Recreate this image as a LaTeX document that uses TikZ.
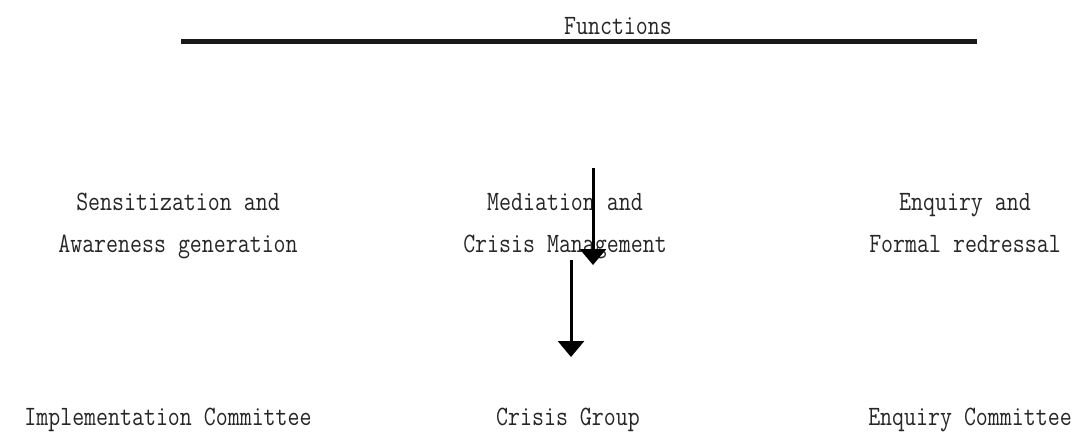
\documentclass[tikz,border=0pt]{standalone}
\usepackage{fontspec}
\usetikzlibrary{arrows.meta}
\newcommand{\narrowtext}[1]{\scalebox{0.83}[1]{#1}}
\begin{document}
\begin{tikzpicture}[x=1pt,y=-1pt,
  lbl/.style={font=\fontsize{28}{32}\selectfont\ttfamily, inner sep=0pt, anchor=base, text=black!85},
  arr/.style={line width=3pt, -{Triangle[width=26pt,length=16pt]}}]
\useasboundingbox (0,0) rectangle (1090,432);
\node[lbl] (fun) at (618,34) {\narrowtext{Functions}};
\coordinate (l1) at (181,41);
\coordinate (l2) at (977,41);
\draw[line width=5pt, black!90] (l1) -- (l2);
\node[lbl] (s1) at (178,210) {\narrowtext{Sensitization and}};
\node[lbl] (s2) at (178,252) {\narrowtext{Awareness generation}};
\node[lbl] (m1) at (565,210) {\narrowtext{Mediation and}};
\node[lbl] (m2) at (565,252) {\narrowtext{Crisis Management}};
\node[lbl] (e1) at (965,210) {\narrowtext{Enquiry and}};
\node[lbl] (e2) at (965,252) {\narrowtext{Formal redressal}};
\node[lbl] (ic) at (168,425) {\narrowtext{Implementation Committee}};
\node[lbl] (cg) at (568,425) {\narrowtext{Crisis Group}};
\node[lbl] (ec) at (970,425) {\narrowtext{Enquiry Committee}};
\coordinate (a1s) at (593,168);
\coordinate (a1e) at (593,265);
\coordinate (a2s) at (571,260);
\coordinate (a2e) at (571,357);
\draw[arr] (a1s) -- (a1e);
\draw[arr] (a2s) -- (a2e);
\end{tikzpicture}
\end{document}
